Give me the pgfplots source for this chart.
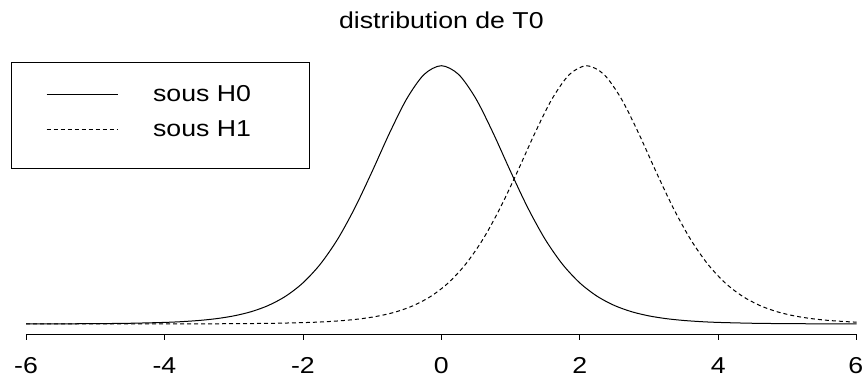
\documentclass[border=0pt]{standalone}
\usepackage{pgfplots}
\pgfplotsset{compat=1.18}
\usepackage{fontspec}
\setmainfont{Liberation Sans}[FakeStretch=1.16]

\begin{document}
\begin{tikzpicture}
\path[use as bounding box] (0,0) rectangle (862pt,377pt);
\begin{axis}[
  at={(26pt,42.7pt)}, anchor=south west,
  scale only axis, width=830.7pt, height=278.9pt,
  xmin=-6, xmax=6, ymin=-0.0155, ymax=0.4035,
  axis x line=bottom, axis y line=none,
  axis line style={-, line width=0.8pt, black},
  xtick={-6,-4,-2,0,2,4,6},
  xticklabels={-6,-4,-2,0,2,4,\kern-2pt 6},
  tick align=outside, major tick length=5.5pt,
  tick style={line width=0.8pt, black},
  xticklabel style={font=\fontsize{23}{27}\selectfont, anchor=base, yshift=-33.5pt},
  title={distribution de T0},
  title style={at={(0.5,1)}, anchor=base, yshift=21pt, inner sep=0pt,
               font=\fontsize{23}{27}\selectfont},
  legend cell align=left,
  legend image code/.code={%
    \path[draw=none, fill=none] (0pt,-20.7pt) rectangle (71pt,14pt);
    \draw[#1] (0pt,0pt) -- (71pt,0pt);},
  legend style={at={(-0.0184,0.9774)}, anchor=north west,
    draw=black, line width=0.8pt, inner xsep=35pt, inner ysep=18.6pt,
    font=\fontsize{23}{27}\selectfont, row sep=0pt,
    nodes={inner sep=0pt},
    /tikz/every odd column/.append style={column sep=35pt}},
]
% Student density, 9 degrees of freedom, centred on 0
\addplot[black, line width=1pt, smooth] coordinates {
(-6,0.00012) (-5.5,0.00025) (-5,0.00050) (-4.5,0.00107) (-4,0.00235)
(-3.75,0.00351) (-3.5,0.00529) (-3.25,0.00800) (-3,0.01213) (-2.75,0.01838)
(-2.5,0.02778) (-2.25,0.04166) (-2,0.0617) (-1.75,0.0897) (-1.5,0.1271)
(-1.25,0.1743) (-1,0.2291) (-0.75,0.2865) (-0.5,0.3383) (-0.25,0.3748)
(0,0.3880)
(0.25,0.3748) (0.5,0.3383) (0.75,0.2865) (1,0.2291) (1.25,0.1743)
(1.5,0.1271) (1.75,0.0897) (2,0.0617) (2.25,0.04166) (2.5,0.02778)
(2.75,0.01838) (3,0.01213) (3.25,0.00800) (3.5,0.00529) (3.75,0.00351)
(4,0.00235) (4.5,0.00107) (5,0.00050) (5.5,0.00025) (6,0.00012)
};
\addlegendentry{\makebox[121.3pt][l]{sous H0}}
% same density shifted to 2.1
\addplot[black, line width=1pt, smooth, dash pattern=on 4pt off 3pt] coordinates {
(-6,0.00001) (-4.9,0.000035) (-3.9,0.00012) (-3.4,0.00025) (-2.9,0.00050)
(-2.4,0.00107) (-1.9,0.00235) (-1.65,0.00351) (-1.4,0.00529) (-1.15,0.00800)
(-0.9,0.01213) (-0.65,0.01838) (-0.4,0.02778) (-0.15,0.04166) (0.1,0.0617)
(0.35,0.0897) (0.6,0.1271) (0.85,0.1743) (1.1,0.2291) (1.35,0.2865)
(1.6,0.3383) (1.85,0.3748) (2.1,0.3880) (2.35,0.3748) (2.6,0.3383)
(2.85,0.2865) (3.1,0.2291) (3.35,0.1743) (3.6,0.1271) (3.85,0.0897)
(4.1,0.0617) (4.35,0.04166) (4.6,0.02778) (4.85,0.01838) (5.1,0.01213)
(5.35,0.00800) (5.6,0.00529) (5.85,0.00351) (6,0.00275)
};
\addlegendentry{\makebox[121.3pt][l]{sous H1}}
\end{axis}
\end{tikzpicture}
\end{document}
